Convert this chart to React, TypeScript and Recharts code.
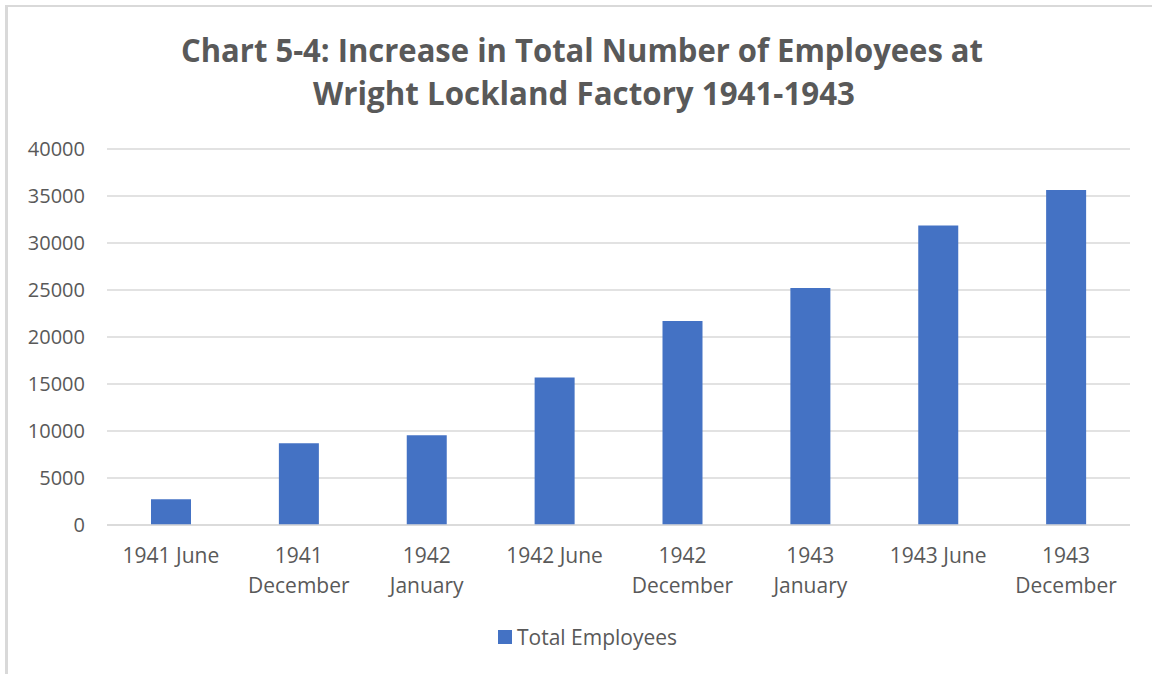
import React from "react";
import { BarChart, Bar, XAxis, YAxis, CartesianGrid, Legend } from "recharts";

const categories = [
  "1941 June",
  "1941 December",
  "1942 January",
  "1942 June",
  "1942 December",
  "1943 January",
  "1943 June",
  "1943 December",
];
const totalEmployees = [2750, 8700, 9550, 15700, 21700, 25200, 31850, 35650];
const yTicks = [0, 5000, 10000, 15000, 20000, 25000, 30000, 35000, 40000];
const titleLines = [
  "Chart 5-4: Increase in Total Number of Employees at",
  "Wright Lockland Factory 1941-1943",
];
const seriesName = "Total Employees";

const data = categories.map((c, i) => ({ category: c, value: totalEmployees[i] }));

const FONT = "'Open Sans', 'Noto Sans', sans-serif";
const TEXT = "#595959";
const GRID = "#d9d9d9";
const BAR = "#4472C4";

const XTick = (props: any) => {
  const { x, y, payload } = props;
  const label: string = payload.value;
  const lines = label.length > 9 ? label.split(" ") : [label];
  return (
    <text x={x} y={y} textAnchor="middle" fill={TEXT} fontSize={21} fontFamily={FONT}>
      {lines.map((l, i) => (
        <tspan key={i} x={x} dy={i === 0 ? 38 : 29.5}>
          {l}
        </tspan>
      ))}
    </text>
  );
};

const LegendContent = () => (
  <div style={{ display: "flex", alignItems: "center", fontFamily: FONT, fontSize: 21, color: TEXT, whiteSpace: "nowrap" }}>
    <div style={{ width: 14, height: 14, background: BAR }} />
    <span style={{ marginLeft: 5 }}>{seriesName}</span>
  </div>
);

export default function App() {
  return (
    <div style={{ position: "absolute", left: 0, top: 0, width: 1152, height: 674, background: "#fff", overflow: "hidden" }}>
      <div
        style={{
          position: "absolute",
          left: 5,
          top: 5,
          width: 1200,
          height: 720,
          borderLeft: `3px solid ${GRID}`,
          borderTop: `2px solid ${GRID}`,
        }}
      />
      <svg style={{ position: "absolute", left: 0, top: 0 }} width={1152} height={140}>
        <text x={582} y={62} textAnchor="middle" fill={TEXT} fontSize={32} fontWeight={700} fontFamily={FONT} textLength={802} lengthAdjust="spacingAndGlyphs">
          {titleLines[0]}
        </text>
        <text x={584} y={105} textAnchor="middle" fill={TEXT} fontSize={32} fontWeight={700} fontFamily={FONT} textLength={542} lengthAdjust="spacingAndGlyphs">
          {titleLines[1]}
        </text>
      </svg>
      <div style={{ position: "absolute", left: 0, top: 0 }}>
        <BarChart width={1152} height={674} data={data} margin={{ top: 149, right: 22, left: 0, bottom: 89 }} barSize={40}>
          <CartesianGrid horizontal vertical={false} stroke={GRID} strokeWidth={1.3} />
          <XAxis
            dataKey="category"
            height={60}
            interval={0}
            tickLine={false}
            tickSize={0}
            tickMargin={0}
            axisLine={{ stroke: GRID, strokeWidth: 1.3 }}
            tick={<XTick />}
          />
          <YAxis
            width={107}
            domain={[0, 40000]}
            ticks={yTicks}
            interval={0}
            axisLine={false}
            tickLine={false}
            tickSize={0}
            tickMargin={22}
            tick={{ fill: TEXT, fontSize: 20, fontFamily: FONT }}
          />
          <Legend
            layout="horizontal"
            verticalAlign="middle"
            align="center"
            content={<LegendContent />}
            wrapperStyle={{ left: 498, top: 623, width: "auto", height: "auto" }}
          />
          <Bar dataKey="value" name={seriesName} fill={BAR} isAnimationActive={false} />
        </BarChart>
      </div>
    </div>
  );
}
